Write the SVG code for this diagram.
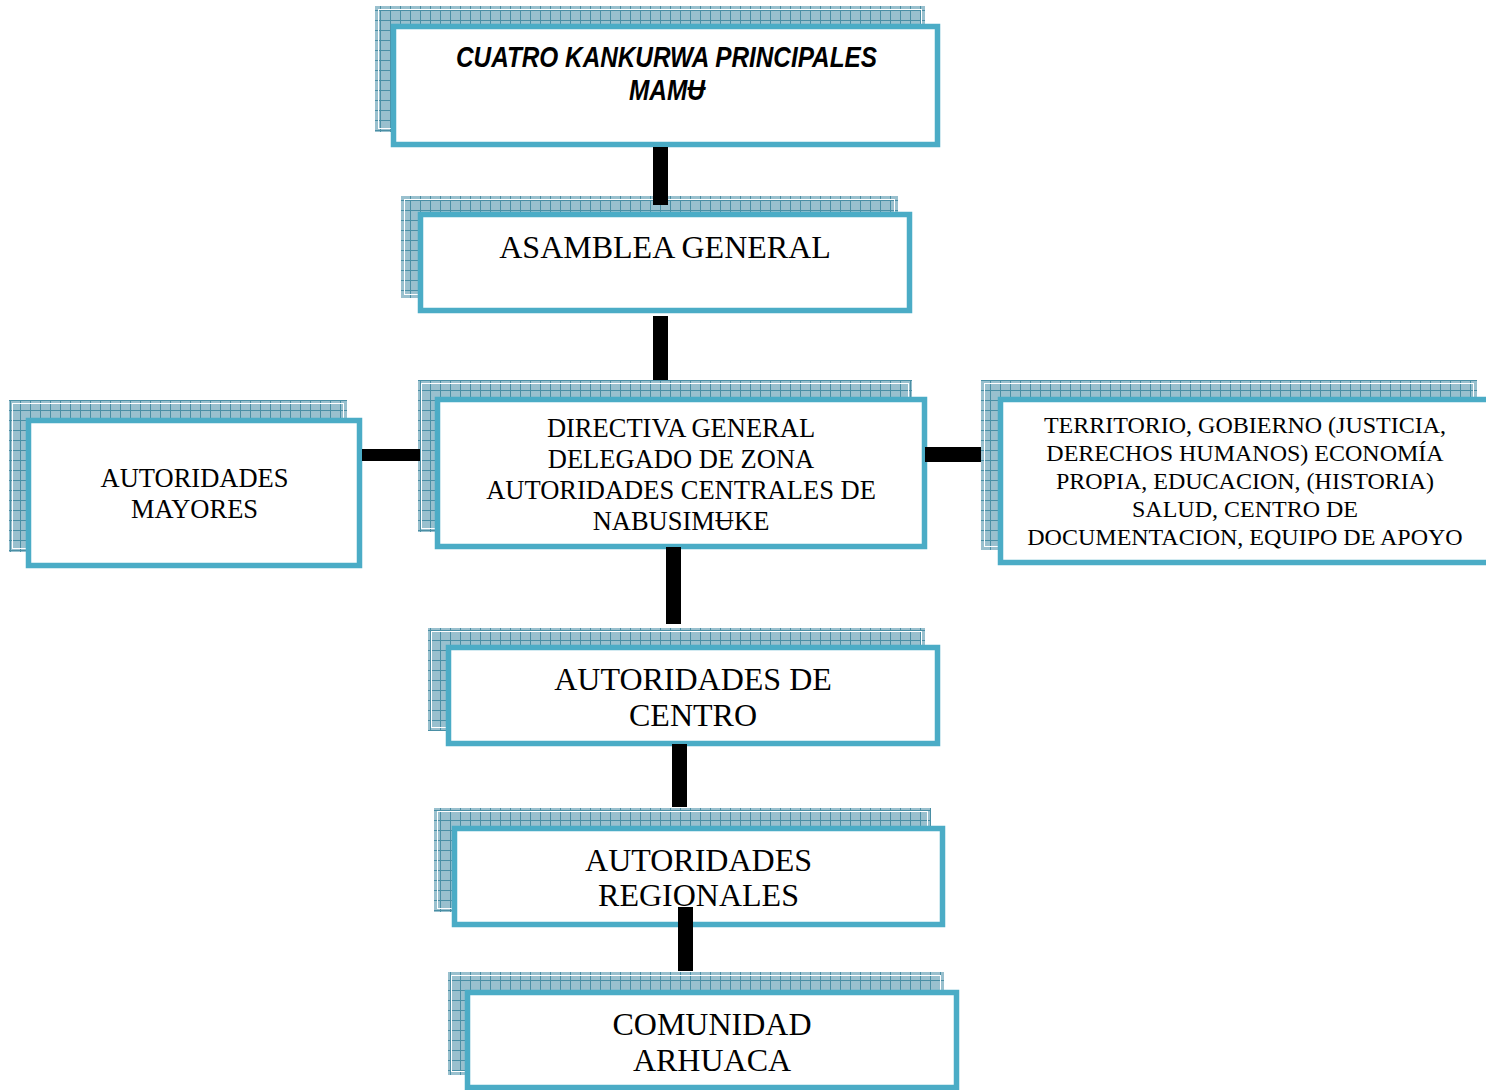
<svg xmlns="http://www.w3.org/2000/svg" width="1486" height="1090" viewBox="0 0 1486 1090">
<defs>
<pattern id="grid" patternUnits="userSpaceOnUse" width="10" height="10">
<rect width="10" height="10" fill="#99C0CE"/>
<path d="M0 0.5H10M0.5 0V10" stroke="#4A8FA5" stroke-width="1"/>
</pattern>
</defs>
<style>
.sh{fill:url(#grid)}
.shl{fill:none;stroke:#ffffff;stroke-width:1}
.bx{fill:#ffffff;stroke:#4BACC6;stroke-width:5.5}
.t{font-family:"Liberation Serif","Times New Roman",serif;fill:#000;text-anchor:middle}
.ti{font-family:"Liberation Sans",Arial,sans-serif;font-weight:bold;font-style:italic;fill:#000;text-anchor:middle}
.c{fill:#000}
</style>
<g id="node-cuatro-kankurwa">
<rect class="sh" x="375" y="6" width="550" height="126"/>
<rect class="shl" x="378.5" y="9.5" width="543" height="119"/>
<rect class="bx" x="393.5" y="26.5" width="544" height="118"/>
<text class="ti" font-size="30" x="666.5" y="67" textLength="421" lengthAdjust="spacingAndGlyphs">CUATRO KANKURWA PRINCIPALES</text>
<text class="ti" font-size="30" x="667" y="100" textLength="76" lengthAdjust="spacingAndGlyphs">MAMɄ</text>
</g>
<g id="node-asamblea">
<rect class="sh" x="401" y="196" width="497" height="102"/>
<rect class="shl" x="404.5" y="199.5" width="490" height="95"/>
<rect class="bx" x="420.5" y="214.5" width="489" height="96"/>
<text class="t" font-size="32" x="665" y="258">ASAMBLEA GENERAL</text>
</g>
<g id="node-directiva">
<rect class="sh" x="418" y="380" width="494" height="152"/>
<rect class="shl" x="421.5" y="383.5" width="487" height="145"/>
<rect class="bx" x="437.5" y="399.5" width="487" height="147"/>
<text class="t" font-size="26.5" x="681" y="437">DIRECTIVA GENERAL</text>
<text class="t" font-size="26.5" x="681" y="468">DELEGADO DE ZONA</text>
<text class="t" font-size="26.5" x="681" y="499">AUTORIDADES CENTRALES DE</text>
<text class="t" font-size="26.5" x="681" y="530">NABUSIMɄKE</text>
</g>
<g id="node-mayores">
<rect class="sh" x="9" y="400" width="338" height="152"/>
<rect class="shl" x="12.5" y="403.5" width="331" height="145"/>
<rect class="bx" x="28.5" y="420.5" width="331" height="145"/>
<text class="t" font-size="26.5" x="194.5" y="487">AUTORIDADES</text>
<text class="t" font-size="26.5" x="194.5" y="518">MAYORES</text>
</g>
<g id="node-territorio">
<rect class="sh" x="981" y="380" width="496" height="170"/>
<rect class="shl" x="984.5" y="383.5" width="489" height="163"/>
<rect class="bx" x="1000.5" y="399.5" width="489" height="163"/>
<text class="t" font-size="24" x="1245" y="433">TERRITORIO, GOBIERNO (JUSTICIA,</text>
<text class="t" font-size="24" x="1245" y="461">DERECHOS HUMANOS) ECONOMÍA</text>
<text class="t" font-size="24" x="1245" y="489">PROPIA, EDUCACION, (HISTORIA)</text>
<text class="t" font-size="24" x="1245" y="517">SALUD, CENTRO DE</text>
<text class="t" font-size="24" x="1245" y="545">DOCUMENTACION, EQUIPO DE APOYO</text>
</g>
<g id="node-centro">
<rect class="sh" x="428" y="628" width="497" height="103"/>
<rect class="shl" x="431.5" y="631.5" width="490" height="96"/>
<rect class="bx" x="448.5" y="647.5" width="489" height="96"/>
<text class="t" font-size="32" x="693" y="690">AUTORIDADES DE</text>
<text class="t" font-size="32" x="693" y="726">CENTRO</text>
</g>
<g id="node-regionales">
<rect class="sh" x="434" y="808" width="497" height="104"/>
<rect class="shl" x="437.5" y="811.5" width="490" height="97"/>
<rect class="bx" x="454.5" y="828.5" width="488" height="96"/>
<text class="t" font-size="32" x="698.5" y="871">AUTORIDADES</text>
<text class="t" font-size="32" x="698.5" y="906">REGIONALES</text>
</g>
<g id="node-comunidad">
<rect class="sh" x="448" y="972" width="496" height="103"/>
<rect class="shl" x="451.5" y="975.5" width="489" height="96"/>
<rect class="bx" x="467.5" y="992.5" width="489" height="95"/>
<text class="t" font-size="32" x="712" y="1035">COMUNIDAD</text>
<text class="t" font-size="32" x="712" y="1071">ARHUACA</text>
</g>
<g id="connectors">
<rect class="c" x="653" y="147" width="15" height="58"/>
<rect class="c" x="653" y="316" width="15" height="64"/>
<rect class="c" x="666" y="547" width="15" height="77"/>
<rect class="c" x="672" y="744" width="15" height="63"/>
<rect class="c" x="678" y="907" width="15" height="64"/>
<rect class="c" x="362" y="449" width="58" height="12"/>
<rect class="c" x="925" y="447" width="56" height="15"/>
</g>
</svg>
